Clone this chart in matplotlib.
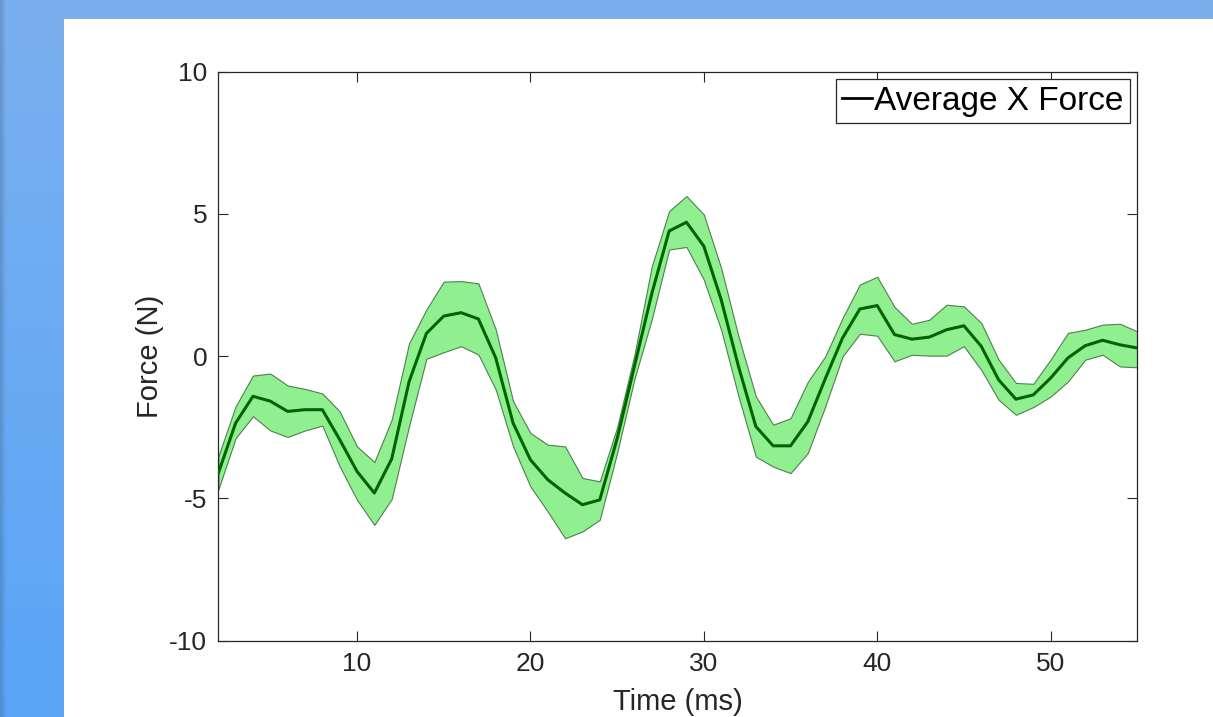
import numpy as np
import matplotlib
matplotlib.use("Agg")
import matplotlib.pyplot as plt
from matplotlib.patches import Rectangle

# ---- data ----
time_ms = list(range(2, 56))
mean_force = [-4.11, -2.35, -1.41, -1.58, -1.94, -1.88, -1.88, -2.93, -4.05, -4.81,
              -3.61, -0.90, 0.80, 1.41, 1.53, 1.31, -0.06, -2.35, -3.64, -4.34,
              -4.81, -5.22, -5.05, -2.90, -0.35, 2.20, 4.40, 4.71, 3.87, 1.99,
              -0.36, -2.47, -3.15, -3.15, -2.30, -0.80, 0.64, 1.66, 1.78, 0.76,
              0.60, 0.67, 0.93, 1.07, 0.35, -0.83, -1.51, -1.36, -0.77, -0.06,
              0.37, 0.56, 0.40, 0.29]
upper_force = [-3.52, -1.76, -0.68, -0.61, -1.03, -1.15, -1.31, -1.94, -3.17, -3.72,
               -2.23, 0.45, 1.64, 2.62, 2.64, 2.56, 0.94, -1.58, -2.70, -3.11,
               -3.17, -4.28, -4.40, -2.50, 0.05, 3.16, 5.10, 5.63, 4.98, 3.10,
               0.70, -1.41, -2.41, -2.18, -0.90, -0.01, 1.34, 2.52, 2.79, 1.73,
               1.14, 1.28, 1.81, 1.75, 1.17, -0.12, -0.94, -0.97, -0.12, 0.82,
               0.93, 1.11, 1.14, 0.87]
lower_force = [-4.69, -2.88, -2.11, -2.61, -2.84, -2.61, -2.44, -3.87, -5.05, -5.93,
               -5.02, -2.46, -0.09, 0.14, 0.35, 0.06, -1.17, -3.17, -4.58, -5.46,
               -6.40, -6.16, -5.75, -3.40, -0.80, 1.30, 3.75, 3.84, 2.69, 0.93,
               -1.41, -3.53, -3.88, -4.11, -3.40, -1.77, -0.01, 0.79, 0.72, -0.18,
               0.05, 0.02, 0.02, 0.35, -0.48, -1.53, -2.06, -1.79, -1.42, -0.89,
               -0.12, 0.05, -0.36, -0.39]
x_ticks = [10, 20, 30, 40, 50]
y_ticks = [-10, -5, 0, 5, 10]
y_ticklabels = ["-10", "-5", "0", "5", "10"]
legend_label = "Average X Force"

plt.rcParams['font.family'] = ['Liberation Sans', 'DejaVu Sans']
TXT = '#262626'

W, H = 1213, 717
fig = plt.figure(figsize=(W / 100, H / 100), dpi=100)

# background: blue gradient frame + white canvas
bg = fig.add_axes([0, 0, 1, 1], zorder=-10)
bg.set_axis_off()
yy, xx = np.mgrid[0:H, 0:W]
top_col = np.array([0x7b, 0xb0, 0xef]) / 255
bot_col = np.array([0x5a, 0xa5, 0xf6]) / 255
t = (yy / H)[..., None]
img = top_col * (1 - t) + bot_col * t
shade = np.clip(1 - (6 - xx) / 40.0, 0.85, 1.0)[..., None]
img = img * shade
bg.imshow(img, extent=[0, 1, 0, 1], aspect='auto', interpolation='bilinear')
bg.set_xlim(0, 1)
bg.set_ylim(0, 1)
fig.patches.append(Rectangle((64 / W, 0), 1 - 64 / W, (H - 19) / H,
                             transform=fig.transFigure, facecolor='white',
                             edgecolor='none', zorder=-5))

ax = fig.add_axes([218.3 / W, (H - 640.7) / H, (1137.3 - 218.3) / W, (640.7 - 71.7) / H])
ax.set_facecolor('white')

ax.fill_between(time_ms, lower_force, upper_force, facecolor='#90f090',
                edgecolor='#4f7f4f', linewidth=0.8, zorder=2)
ax.plot(time_ms, mean_force, color='#006400', linewidth=2.2, zorder=3)

ax.set_xlim(2, 55)
ax.set_ylim(-10, 10)
ax.set_xticks(x_ticks)
ax.set_yticks(y_ticks)
ax.set_yticklabels(y_ticklabels)
ax.tick_params(direction='in', length=7, width=0.8, colors=TXT, labelsize=19,
               top=True, right=True, pad=8)
for s in ax.spines.values():
    s.set_color(TXT)
    s.set_linewidth(0.9)

ax.set_xlabel('Time (ms)', fontsize=21, color=TXT, labelpad=9)
ax.set_ylabel('Force (N)', fontsize=21, color=TXT, labelpad=4)

handle, = ax.plot([], [], color='black', linewidth=2.0)
leg = ax.legend([handle], [legend_label], loc='upper right',
                bbox_to_anchor=(1130 / W, (H - 79) / H), bbox_transform=fig.transFigure,
                borderaxespad=0, fontsize=24, handlelength=0.9, handletextpad=0.05,
                borderpad=0.2, fancybox=False, framealpha=1, edgecolor=TXT)
leg.get_frame().set_linewidth(0.9)

fig.savefig('out.png', dpi=100)
